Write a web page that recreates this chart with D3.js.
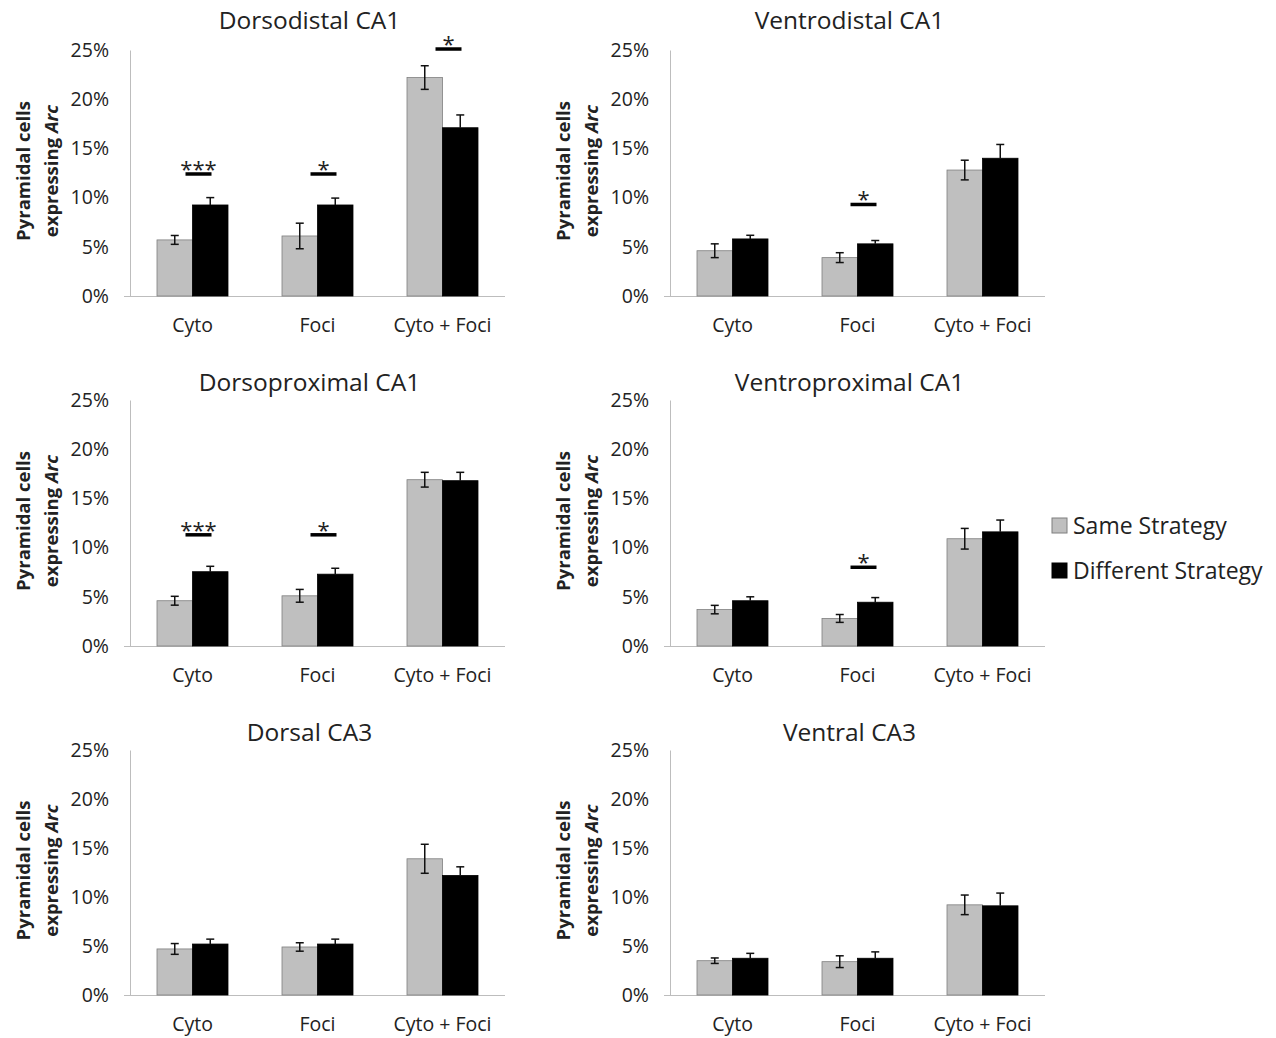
<!DOCTYPE html>
<html>
<head>
<meta charset="utf-8">
<script src="https://cdn.jsdelivr.net/npm/d3@7.9.0/dist/d3.min.js"></script>
<style>
  body { margin: 0; background: #fff; }
  svg { display: block; }
  svg text { font-family: 'Open Sans', 'Noto Sans', sans-serif; }
</style>
</head>
<body>
<div id="chart"></div>
<script>
// panel titles, in reading order (row by row)
const titles = ['Dorsodistal CA1', 'Ventrodistal CA1', 'Dorsoproximal CA1',
  'Ventroproximal CA1', 'Dorsal CA3', 'Ventral CA3'];
const categories = ['Cyto', 'Foci', 'Cyto + Foci'];
const series = ['Same Strategy', 'Different Strategy'];
const yTicks = [0, 5, 10, 15, 20, 25];

// percent values per panel, one entry per category
const sameValues = [
  [5.7, 6.1, 22.2], [4.6, 3.9, 12.8], [4.6, 5.1, 16.9],
  [3.7, 2.8, 10.9], [4.7, 4.9, 13.9], [3.5, 3.4, 9.2]];
const sameErrors = [
  [0.45, 1.3, 1.2], [0.7, 0.5, 1.0], [0.45, 0.65, 0.75],
  [0.43, 0.4, 1.05], [0.55, 0.43, 1.48], [0.28, 0.6, 1.0]];
const diffValues = [
  [9.25, 9.25, 17.1], [5.8, 5.3, 14.0], [7.55, 7.3, 16.8],
  [4.6, 4.45, 11.6], [5.2, 5.2, 12.2], [3.75, 3.75, 9.1]];
const diffErrors = [
  [0.75, 0.7, 1.3], [0.37, 0.34, 1.4], [0.55, 0.6, 0.85],
  [0.4, 0.47, 1.2], [0.5, 0.5, 0.88], [0.5, 0.65, 1.3]];

// significance bars: category, height (%) and stars
const significance = [
  [['Cyto', 12.4, '***'], ['Foci', 12.4, '*'], ['Cyto + Foci', 25.1, '*']],
  [['Foci', 9.3, '*']],
  [['Cyto', 11.3, '***'], ['Foci', 11.3, '*']],
  [['Foci', 8.0, '*']],
  [],
  []];

const colors = { 'Same Strategy': '#bfbfbf', 'Different Strategy': '#000000' };

const width = 1276, height = 1038;
const colLeft = [130, 670];
const rowTop = [50, 400, 750];
const rowBottom = [296, 646, 995];
const titleY = [20, 382, 732];
const plotWidth = 375;

const svg = d3.select('#chart').append('svg')
  .attr('width', width).attr('height', height);

titles.forEach((title, i) => {
  const col = i % 2, row = Math.floor(i / 2);
  const left = colLeft[col];
  const g = svg.append('g');

  const x = d3.scaleBand().domain(categories).range([left, left + plotWidth]);
  const xSub = d3.scaleBand().domain(series).range([27, 98]);
  const y = d3.scaleLinear().domain([0, 25]).range([rowBottom[row], rowTop[row]]);

  // y axis
  const yAxis = g.append('g')
    .attr('transform', `translate(${left},0)`)
    .call(d3.axisLeft(y).tickValues(yTicks).tickSize(0).tickPadding(21)
      .tickFormat(d => d + '%'));
  yAxis.attr('font-family', null);
  yAxis.select('.domain').attr('stroke', '#bdbdbd');
  yAxis.selectAll('text').attr('font-size', 19.5).attr('fill', '#222');

  // x axis
  const xAxis = g.append('g')
    .attr('transform', `translate(0,${rowBottom[row]})`)
    .call(d3.axisBottom(x).tickSize(0).tickPadding(22));
  xAxis.attr('font-family', null);
  xAxis.select('.domain').attr('stroke', '#bdbdbd')
    .attr('d', `M${left - 6},0.5H${left + plotWidth}`);
  xAxis.selectAll('text').attr('font-size', 19.5).attr('fill', '#222');

  const rows = categories.map((c, j) => ({
    cat: c,
    vals: [
      { s: series[0], v: sameValues[i][j], e: sameErrors[i][j] },
      { s: series[1], v: diffValues[i][j], e: diffErrors[i][j] }]
  }));

  const groups = g.selectAll('.cat').data(rows).join('g')
    .attr('transform', d => `translate(${x(d.cat)},0)`);

  groups.selectAll('rect').data(d => d.vals).join('rect')
    .attr('x', d => xSub(d.s))
    .attr('width', xSub.bandwidth())
    .attr('y', d => y(d.v))
    .attr('height', d => y(0) - y(d.v))
    .attr('fill', d => colors[d.s])
    .attr('stroke', d => d.s === series[0] ? '#7f7f7f' : '#000')
    .attr('stroke-width', 0.8);

  // error bars
  const eb = groups.selectAll('.err').data(d => d.vals).join('g')
    .attr('class', 'err')
    .attr('stroke', '#111').attr('stroke-width', 1.5);
  const cx = d => xSub(d.s) + xSub.bandwidth() / 2;
  eb.append('line')
    .attr('x1', cx).attr('x2', cx)
    .attr('y1', d => y(d.v + d.e))
    .attr('y2', d => d.s === series[0] ? y(d.v - d.e) : y(d.v));
  eb.append('line')
    .attr('x1', d => cx(d) - 4).attr('x2', d => cx(d) + 4)
    .attr('y1', d => y(d.v + d.e)).attr('y2', d => y(d.v + d.e));
  eb.filter(d => d.s === series[0]).append('line')
    .attr('x1', d => cx(d) - 4).attr('x2', d => cx(d) + 4)
    .attr('y1', d => y(d.v - d.e)).attr('y2', d => y(d.v - d.e));

  // significance markers
  const sig = g.selectAll('.sig').data(significance[i]).join('g').attr('class', 'sig');
  const sx = d => x(d[0]) + x.bandwidth() / 2 + 6;
  sig.append('line')
    .attr('x1', d => sx(d) - 13).attr('x2', d => sx(d) + 13)
    .attr('y1', d => y(d[1])).attr('y2', d => y(d[1]))
    .attr('stroke', '#000').attr('stroke-width', 3.5);
  sig.append('text')
    .attr('x', sx).attr('y', d => y(d[1]) + 3)
    .attr('text-anchor', 'middle')
    .attr('font-size', 22).attr('fill', '#222')
    .text(d => d[2]);

  // title
  g.append('text')
    .attr('x', left + plotWidth / 2 - 8).attr('y', titleY[row])
    .attr('dy', '0.35em').attr('text-anchor', 'middle')
    .attr('font-size', 24.5).attr('fill', '#222')
    .text(title);

  // y label
  const midY = (rowTop[row] + rowBottom[row]) / 2;
  const lab = g.append('text')
    .attr('transform', `translate(${left - 106},${midY - 2}) rotate(-90)`)
    .attr('text-anchor', 'middle')
    .attr('font-size', 18.5).attr('font-weight', 'bold').attr('fill', '#222');
  lab.append('tspan').attr('x', 0).attr('dy', '0.35em').text('Pyramidal cells');
  const l2 = lab.append('tspan').attr('x', 0).attr('dy', '1.48em');
  l2.append('tspan').text('expressing ');
  l2.append('tspan').attr('font-style', 'italic').text('Arc');
});

// legend
const legend = svg.append('g').attr('transform', 'translate(1052,518)');
const li = legend.selectAll('g').data(series).join('g')
  .attr('transform', (d, k) => `translate(0,${k * 45})`);
li.append('rect')
  .attr('width', 15).attr('height', 15)
  .attr('fill', d => colors[d])
  .attr('stroke', d => d === series[0] ? '#7f7f7f' : '#000');
li.append('text')
  .attr('x', 21).attr('y', 8).attr('dy', '0.35em')
  .attr('font-size', 23).attr('fill', '#222')
  .text(d => d);
</script>
</body>
</html>
